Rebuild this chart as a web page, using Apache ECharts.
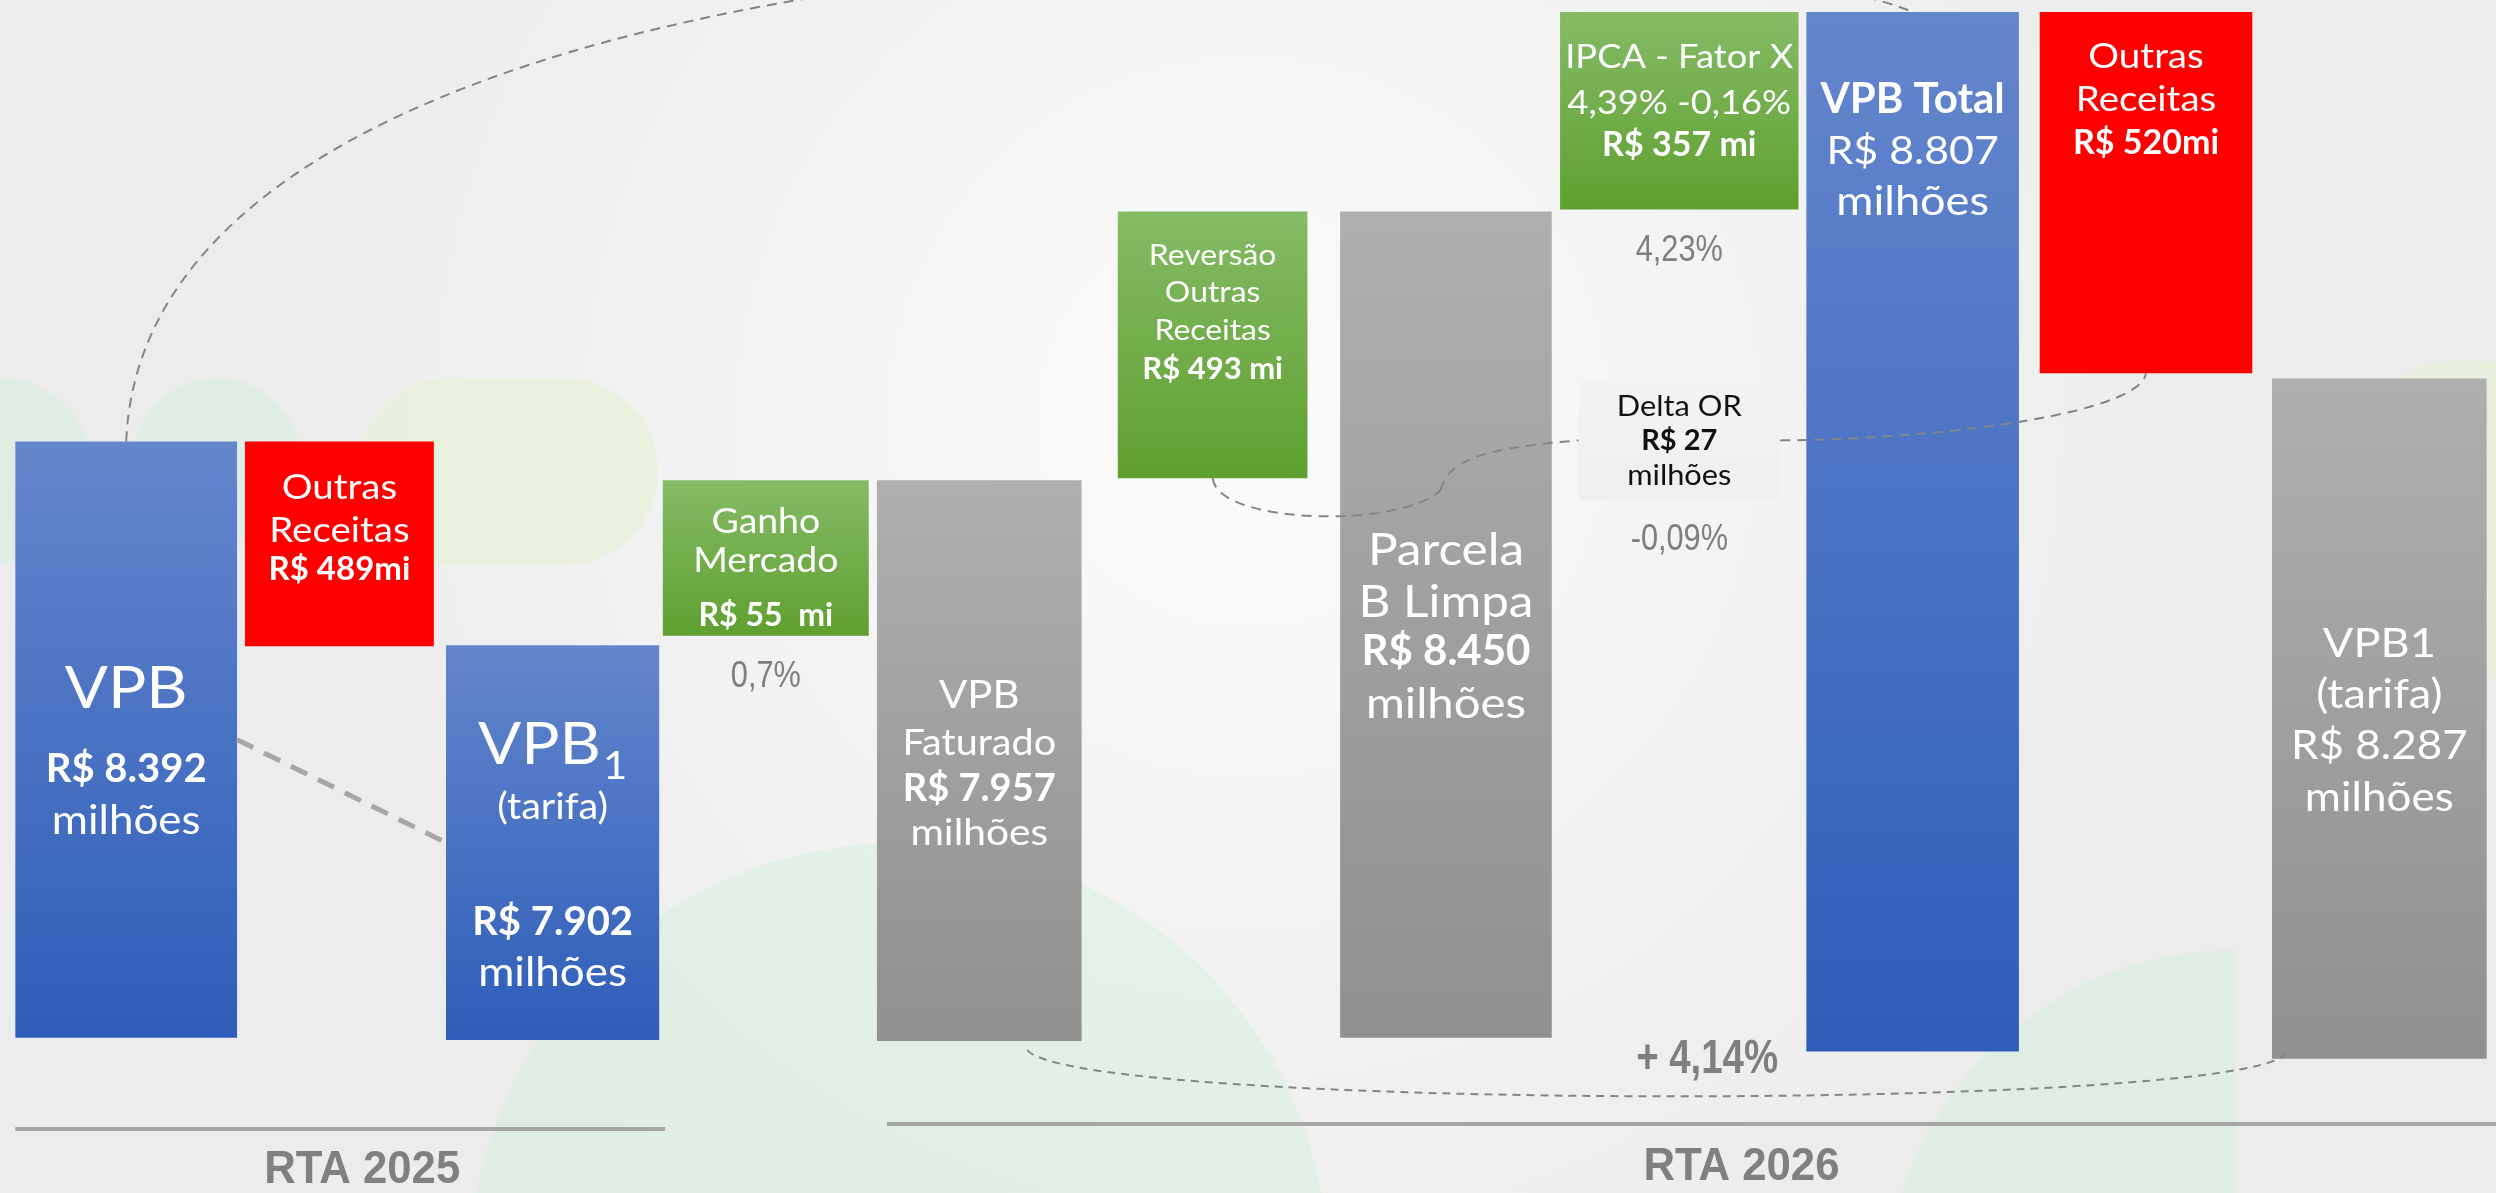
<!DOCTYPE html>
<html lang="pt-BR">
<head>
<meta charset="utf-8">
<title>VPB - RTA 2025 x RTA 2026</title>
<script src="https://cdn.jsdelivr.net/npm/echarts@6/dist/echarts.min.js"></script>
<style>
  html, body { margin: 0; padding: 0; background: #f4f4f4; }
  #grafico { width: 2496px; height: 1193px; }
</style>
</head>
<body>
<div id="grafico"></div>
<script>
// ---- dados (R$ milhões) ----
const categorias2025 = ['VPB', 'Outras Receitas', 'VPB1 (tarifa)', 'Ganho Mercado'];
const categorias2026 = ['VPB Faturado', 'Reversão Outras Receitas', 'Parcela B Limpa',
  'IPCA - Fator X', 'VPB Total', 'Outras Receitas', 'VPB1 (tarifa)'];
const valores2025 = [8392, 489, 7902, 55];
const valores2026 = [7957, 493, 8450, 357, 8807, 520, 8287];

// níveis do esquema no eixo oculto (0 = base, 100 = topo)
// (o desenho original não está em escala com os valores)
const base2025 = [2.3, 39.6, 2.1, 40.6];
const topo2025 = [59.1, 59.1, 39.7, 55.4];
const base2026 = [2.0, 55.6, 2.3, 81.2, 1.0, 65.6, 0.3];
const topo2026 = [55.4, 81.0, 81.0, 100, 100, 100, 65.1];

const deltaOR = 27;
const deltaBase = 53.6;
const deltaTopo = 64.8;

const ipca = '4,39%';
const fatorX = '-0,16%';
const percentual2025 = ['', '', '', '0,7%'];
const percentual2026 = ['', '', '', '4,23%', '', '', ''];
const percentualDelta = ['-0,09%'];
const variacaoTotal = '+ 4,14%';
const rotulosGrupo = ['RTA 2025', 'RTA 2026'];

// ---- estilos ----
const AZUL = ['#6486CC', '#2E5EB9'];
const CINZA = ['#AFAFAF', '#909090'];
const VERDE = ['#85BB66', '#5FA030'];
const VERMELHO = ['#FF0000', '#FF0000'];
const FONTE = 'Lato, "Noto Sans", sans-serif';
const FONTE_PCT = '"Liberation Sans", Arial, sans-serif';

// linhas: [texto, tamanho, distância do topo da barra, negrito, subscrito]
const estilo2025 = [
  { cor: AZUL, larg: 1.04, linhas: [['VPB', 58, 248], ['R$ %v', 40, 328, 1], ['milhões', 40, 380]] },
  { cor: VERMELHO, larg: 0.886, linhas: [['Outras', 35, 46], ['Receitas', 35, 89], ['R$ %vmi', 33, 128, 1]] },
  { cor: AZUL, larg: 1.0, linhas: [['VPB', 58, 100, 0, '1'], ['(tarifa)', 36, 162], ['R$ %v', 40, 277, 1], ['milhões', 40, 328]] },
  { cor: VERDE, larg: 0.966, linhas: [['Ganho', 34, 42], ['Mercado', 34, 81], ['R$ %v  mi', 32, 135, 1]] }
];
const estilo2026 = [
  { cor: CINZA, larg: 0.877, linhas: [['VPB', 38, 215], ['Faturado', 36, 263], ['R$ %v', 38, 308, 1], ['milhões', 37, 353]] },
  { cor: VERDE, larg: 0.813, linhas: [['Reversão', 29, 44], ['Outras', 29, 81], ['Receitas', 29, 119], ['R$ %v mi', 31, 157, 1]] },
  { cor: CINZA, larg: 0.907, linhas: [['Parcela', 45, 339], ['B Limpa', 45, 391], ['R$ %v', 42, 440, 1], ['milhões', 43, 493]] },
  { cor: VERDE, larg: 1.022, linhas: [['IPCA - Fator X', 33, 45], ['%ipca %fx', 33, 91], ['R$ %v mi', 34, 133, 1]] },
  { cor: AZUL, larg: 0.911, linhas: [['VPB Total', 42, 87, 1], ['R$ %v', 39, 139], ['milhões', 41, 190]] },
  { cor: VERMELHO, larg: 0.911, linhas: [['Outras', 35, 45], ['Receitas', 35, 88], ['R$ %vmi', 34, 131, 1]] },
  { cor: CINZA, larg: 0.92, linhas: [['VPB1', 41, 265], ['(tarifa)', 41, 316], ['R$ %v', 40, 368], ['milhões', 40, 420]] }
];
const estiloDelta = [
  { cor: ['#F3F3F3', '#EFEFEF'], larg: 0.865, corTexto: '#111111',
    linhas: [['Delta OR', 28, 25], ['R$ %v', 29, 59, 1], ['milhões', 28, 94]] }
];
const ESTICA = 1.1;      // letras largas do original
const ESTREITA = 0.83;   // percentuais em fonte estreita

// 8392 -> 8.392
function fmt (v) {
  return String(v).replace(/\B(?=(\d{3})+(?!\d))/g, '.');
}

function textoLinha (l, valor, cor) {
  const txt = l[0].replace('%v', fmt(valor)).replace('%ipca', ipca).replace('%fx', fatorX);
  if (l[4]) {
    return {
      text: '{a|' + txt + '}{s|' + l[4] + '}',
      align: 'center',
      verticalAlign: 'middle',
      rich: {
        a: { fontSize: l[1], fontFamily: FONTE, fill: cor },
        s: { fontSize: 38, fontFamily: FONTE, fill: cor, padding: [44, 0, 0, 2] }
      }
    };
  }
  return {
    text: txt,
    fill: cor,
    fontSize: l[1],
    fontWeight: l[3] ? 'bold' : 'normal',
    fontFamily: FONTE,
    align: 'center',
    verticalAlign: 'middle'
  };
}

// barras flutuantes desenhadas pelas escalas do eixo
function desenhaBarras (estilos, valores, percentuais) {
  return function (params, api) {
    const k = params.dataIndex;
    const i = api.value(0);
    const baixo = api.coord([i, api.value(1)]);
    const alto = api.coord([i, api.value(2)]);
    const est = estilos[k];
    const w = api.size([1, 0])[0] * est.larg;
    const x = baixo[0] - w / 2;
    const y = alto[1];
    const h = baixo[1] - alto[1];
    const corTexto = est.corTexto || '#FFFFFF';
    const filhos = [{
      type: 'rect',
      shape: { x: x, y: y, width: w, height: h },
      style: {
        fill: new echarts.graphic.LinearGradient(0, 0, 0, 1, [
          { offset: 0, color: est.cor[0] },
          { offset: 1, color: est.cor[1] }
        ]),
        shadowBlur: 8,
        shadowOffsetX: 4,
        shadowOffsetY: 4,
        shadowColor: 'rgba(0,0,0,0.35)'
      }
    }];
    est.linhas.forEach(function (l) {
      filhos.push({
        type: 'text',
        x: baixo[0],
        y: y + l[2],
        scaleX: l[3] ? 1 : ESTICA,
        style: textoLinha(l, valores[k], corTexto)
      });
    });
    if (percentuais[k]) {
      filhos.push({
        type: 'text',
        x: baixo[0],
        y: baixo[1] + 41,
        scaleX: ESTREITA,
        style: {
          text: percentuais[k], fill: '#7F7F7F', fontSize: 37, fontFamily: FONTE_PCT,
          align: 'center', verticalAlign: 'middle'
        }
      });
    }
    return { type: 'group', children: filhos };
  };
}

const dados2025 = valores2025.map((v, i) => [i, base2025[i], topo2025[i]]);
const dados2026 = valores2026.map((v, i) => [i, base2026[i], topo2026[i]]);

const option = {
  animation: false,
  grid: [
    { left: 19.6, top: 12, width: 852.8, height: 1050 },
    { left: 862.6, top: 12, width: 1643.6, height: 1050 }
  ],
  xAxis: [
    { type: 'category', gridIndex: 0, data: categorias2025, show: false },
    { type: 'category', gridIndex: 1, data: categorias2026, show: false }
  ],
  yAxis: [
    { type: 'value', gridIndex: 0, min: 0, max: 100, show: false },
    { type: 'value', gridIndex: 1, min: 0, max: 100, show: false }
  ],
  series: [
    {
      name: 'RTA 2025', type: 'custom', xAxisIndex: 0, yAxisIndex: 0,
      encode: { x: 0, y: [1, 2] }, data: dados2025,
      renderItem: desenhaBarras(estilo2025, valores2025, percentual2025)
    },
    {
      name: 'RTA 2026', type: 'custom', xAxisIndex: 1, yAxisIndex: 1,
      encode: { x: 0, y: [1, 2] }, data: dados2026,
      renderItem: desenhaBarras(estilo2026, valores2026, percentual2026)
    },
    {
      name: 'Delta OR', type: 'custom', xAxisIndex: 1, yAxisIndex: 1,
      encode: { x: 0, y: [1, 2] }, data: [[3, deltaBase, deltaTopo]],
      renderItem: desenhaBarras(estiloDelta, [deltaOR], percentualDelta)
    }
  ]
};

const chart = echarts.init(document.getElementById('grafico'));
chart.setOption(option);

// ---- conectores e rótulos dos grupos, a partir das posições das barras ----
const px = (g, v) => chart.convertToPixel({ xAxisIndex: g, yAxisIndex: g }, v);
function caixa (g, i, lo, hi, frac) {
  const a = px(g, [i, lo]);
  const b = px(g, [i, hi]);
  const band = px(g, [1, 0])[0] - px(g, [0, 0])[0];
  const w = band * frac;
  return { x0: a[0] - w / 2, x1: a[0] + w / 2, cx: a[0], topo: b[1], base: a[1], meio: (a[1] + b[1]) / 2 };
}
const cx25 = (i) => caixa(0, i, base2025[i], topo2025[i], estilo2025[i].larg);
const cx26 = (i) => caixa(1, i, base2026[i], topo2026[i], estilo2026[i].larg);

const vpb = cx25(0);
const vpb1 = cx25(2);
const fat = cx26(0);
const rev = cx26(1);
const vpbTotal = cx26(4);
const outras26 = cx26(5);
const vpb1n = cx26(6);
const delta = caixa(1, 3, deltaBase, deltaTopo, estiloDelta[0].larg);
const baseY = px(0, [0, 0])[1];
const W = chart.getWidth();

function bez (a, b, c, d, t) {
  const u = 1 - t;
  return [
    u * u * u * a[0] + 3 * u * u * t * b[0] + 3 * u * t * t * c[0] + t * t * t * d[0],
    u * u * u * a[1] + 3 * u * u * t * b[1] + 3 * u * t * t * c[1] + t * t * t * d[1]
  ];
}
function curva (a, b, c, d, estilo) {
  return {
    type: 'bezierCurve', z: 10, silent: true,
    shape: { x1: a[0], y1: a[1], cpx1: b[0], cpy1: b[1], cpx2: c[0], cpy2: c[1], x2: d[0], y2: d[1] },
    style: Object.assign({ fill: null }, estilo)
  };
}
const tracejado = { stroke: '#858585', lineWidth: 2, lineDash: [10, 7] };

// arco VPB -> VPB Total
const a0 = [vpb.cx, vpb.topo];
const a3 = [vpbTotal.cx, vpbTotal.topo];
// Reversão -> Delta OR
const r0 = [rev.cx, rev.base];
const rq = [r0[0] + 228, r0[1] + 12];
const re = [delta.x0, delta.meio];
// Delta OR -> Outras Receitas 2026
const d0 = [delta.x1, delta.meio];
const d3 = [outras26.cx, outras26.base];
// VPB Faturado -> VPB1 2026
const p0 = [fat.cx + 48, fat.base + 9];
const p3 = [vpb1n.x0 + 13, vpb1n.base - 4];
const p1 = [p0[0] + 47, p0[1] + 60];
const p2 = [p3[0] - 63, p3[1] + 57];
const pm = bez(p0, p1, p2, p3, 0.5);

const l25 = [vpb.x0, vpb1.x1 + 6];
const l26 = [fat.x0 + 10, W];

const verdeClaro = 'rgba(200, 238, 208, 0.32)';
const amareloClaro = 'rgba(228, 244, 205, 0.5)';

chart.setOption({
  graphic: [
    {
      type: 'rect', z: -20, silent: true,
      shape: { x: 0, y: 0, width: W, height: chart.getHeight() },
      style: {
        fill: new echarts.graphic.RadialGradient(0.5, 0.35, 0.8, [
          { offset: 0, color: '#FBFBFB' },
          { offset: 1, color: '#ECECEC' }
        ])
      }
    },
    { type: 'circle', z: -10, silent: true, shape: { cx: 899, cy: 1273, r: 430 }, style: { fill: verdeClaro } },
    { type: 'sector', z: -10, silent: true, shape: { cx: 2235, cy: 1300, r: 350, startAngle: Math.PI, endAngle: Math.PI * 1.5 }, style: { fill: verdeClaro } },
    { type: 'rect', z: -10, silent: true, shape: { x: 357, y: 378, width: 301, height: 187, r: 93 }, style: { fill: amareloClaro } },
    { type: 'circle', z: -10, silent: true, shape: { cx: 0, cy: 470, r: 92 }, style: { fill: verdeClaro } },
    { type: 'circle', z: -10, silent: true, shape: { cx: 217, cy: 462, r: 84 }, style: { fill: verdeClaro } },
    { type: 'circle', z: -10, silent: true, shape: { cx: 2470, cy: 520, r: 160 }, style: { fill: amareloClaro } },

    curva(a0, [a0[0] + 23, a0[1] - 560], [a3[0] - 235, a3[1] - 100], a3, tracejado),
    {
      type: 'line', z: 10, silent: true,
      shape: { x1: vpb.x1, y1: vpb.meio, x2: vpb1.x0, y2: vpb1.meio },
      style: { stroke: '#A6A6A6', lineWidth: 5, lineDash: [18, 12] }
    },
    curva(r0, [r0[0] + 5, r0[1] + 47], [r0[0] + 190, r0[1] + 50], rq, tracejado),
    curva(rq, [rq[0] + 8, rq[1] - 30], [rq[0] + 40, re[1] + 8], re, tracejado),
    curva(d0, [d0[0] + 180, d0[1] - 2], [d3[0] - 5, d3[1] + 38], d3, tracejado),
    curva(p0, p1, p2, p3, { stroke: '#858585', lineWidth: 2, lineDash: [8, 6] }),
    {
      type: 'text', z: 10, silent: true, x: pm[0] + 57, y: pm[1] - 37, scaleX: 0.8,
      style: { text: variacaoTotal, fill: '#7F7F7F', fontSize: 48, fontWeight: 'bold', fontFamily: FONTE_PCT, align: 'center', verticalAlign: 'middle' }
    },

    { type: 'line', z: 10, silent: true, shape: { x1: l25[0], y1: baseY + 67, x2: l25[1], y2: baseY + 67 }, style: { stroke: '#A6A6A6', lineWidth: 4 } },
    { type: 'line', z: 10, silent: true, shape: { x1: l26[0], y1: baseY + 62, x2: l26[1], y2: baseY + 62 }, style: { stroke: '#A6A6A6', lineWidth: 4 } },
    {
      type: 'text', z: 10, silent: true, x: (l25[0] + l25[1]) / 2 + 22, y: baseY + 108, scaleX: 0.95,
      style: { text: rotulosGrupo[0], fill: '#808080', fontSize: 46, fontWeight: 'bold', fontFamily: FONTE_PCT, align: 'center', verticalAlign: 'middle' }
    },
    {
      type: 'text', z: 10, silent: true, x: (l26[0] + l26[1]) / 2 + 50, y: baseY + 105, scaleX: 0.95,
      style: { text: rotulosGrupo[1], fill: '#808080', fontSize: 46, fontWeight: 'bold', fontFamily: FONTE_PCT, align: 'center', verticalAlign: 'middle' }
    }
  ]
});
</script>
</body>
</html>
